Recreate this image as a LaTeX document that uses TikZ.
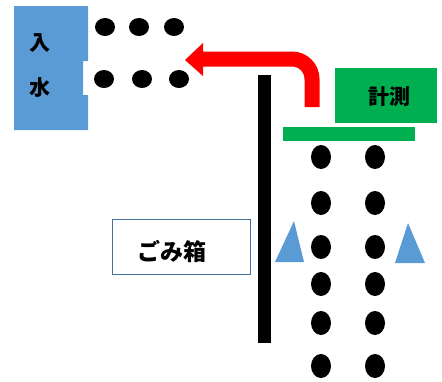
\documentclass[tikz,border=0pt]{standalone}
\usepackage{fontspec}
\usetikzlibrary{shapes.geometric}
\newfontfamily\jp{Noto Sans CJK JP}
\definecolor{offblue}{HTML}{5B9BD5}
\definecolor{offgreen}{HTML}{00B050}
\definecolor{boxline}{HTML}{41719C}
\begin{document}
\begin{tikzpicture}[x=1pt,y=-1pt,
  dot/.style={fill=black,draw=none,ellipse,minimum width=20pt,minimum height=18pt,inner sep=0pt},
  vdot/.style={fill=black,draw=none,ellipse,minimum width=20pt,minimum height=24pt,inner sep=0pt},
  jptext/.style={font=\jp\bfseries\fontsize{21}{21}\selectfont,inner sep=0pt},
  tri/.style={fill=offblue,draw=none}]
\useasboundingbox (0,0) rectangle (442,381);
% intake box with notch
\fill[offblue] (14,6) -- (88,6) -- (88,61) -- (83,61) -- (83,95) -- (88,95) -- (88,130) -- (14,130) -- cycle;
\node[jptext] (iri) at (40,43) {入};
\node[jptext] (mizu) at (40,88) {水};
% dots near intake
\node[dot] (a1) at (105,27) {};
\node[dot] (a2) at (139,27) {};
\node[dot] (a3) at (174,27) {};
\node[dot] (b1) at (104,79) {};
\node[dot] (b2) at (142,79) {};
\node[dot] (b3) at (179,79) {};
% black wall
\fill[black] (258,75) rectangle (271,343);
% measurement box
\node[fill=offgreen,minimum width=102pt,minimum height=55pt,inner sep=0pt] (keisoku) at (386,95) {};
\node[jptext] (ktext) at (389,97) {計測};
% green bar
\fill[offgreen] (283,127) rectangle (415,141);
% red arrow
\coordinate (rs) at (312,107);
\coordinate (rc) at (312,59);
\coordinate (re) at (201,59);
\draw[red,line width=15pt,rounded corners=20pt] (rs) -- (rc) -- (re);
\fill[red] (203,43) -- (185,60) -- (203,76) -- cycle;
% vertical dots
\foreach \y [count=\i] in {157,203,247,284,323,366}{
  \node[vdot] (l\i) at (321,\y) {};
  \node[vdot] (r\i) at (375,\y) {};
}
% triangles
\fill[tri] (275,262) -- (294,221) -- (304,262) -- cycle;
\fill[tri] (395,263) -- (408,223) -- (425,263) -- cycle;
% trash box
\node[draw=boxline,line width=0.8pt,minimum width=138pt,minimum height=55pt,inner sep=0pt] (gomi) at (181,247) {};
\node[jptext,font=\jp\bfseries\fontsize{23}{23}\selectfont] (gtext) at (172,252) {ごみ箱};
\end{tikzpicture}
\end{document}
